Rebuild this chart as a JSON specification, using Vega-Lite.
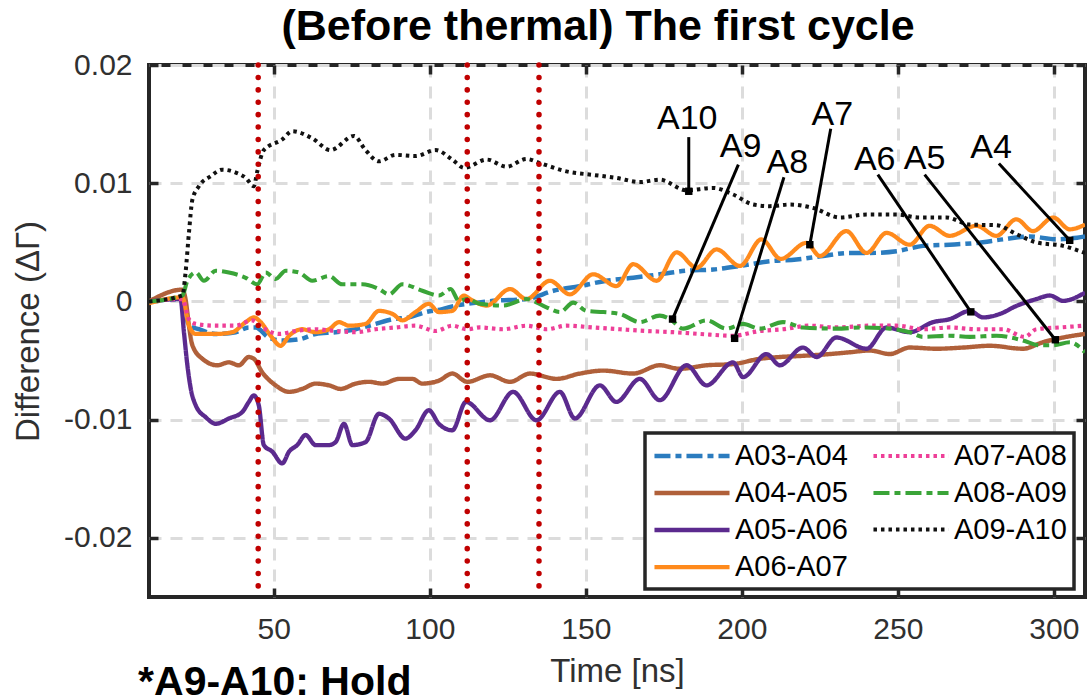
{
  "$schema": "https://vega.github.io/schema/vega-lite/v6.json",
  "autosize": "none",
  "padding": {"left": 149, "top": 65, "right": 2, "bottom": 102},
  "width": 936,
  "height": 532,
  "background": "white",
  "title": {"text": "(Before thermal) The first cycle", "font": "Liberation Sans", "fontSize": 43, "fontWeight": "bold", "color": "black", "anchor": "middle", "dx": -19, "offset": 1},
  "config": {
    "view": {"stroke": "#262626", "strokeWidth": 4},
    "axis": {"labelFont": "Liberation Sans", "titleFont": "Liberation Sans", "labelColor": "#303030", "titleColor": "#303030", "titleFontWeight": "normal", "domain": false, "tickColor": "#262626", "tickWidth": 3.5, "tickSize": -9, "gridColor": "#dcdcdc", "gridDash": [12, 9], "gridWidth": 3, "labelFontSize": 30, "titleFontSize": 33},
    "legend": {"orient": "none", "legendX": 496, "legendY": 368, "columns": 2, "strokeColor": "#262626", "strokeWidth": 3.5, "fillColor": "white", "padding": 7, "symbolType": "M-2.78,0H2.78", "symbolSize": 729, "symbolOffset": 24, "labelOffset": 27, "labelFont": "Liberation Sans", "labelFontSize": 29, "labelColor": "black", "rowPadding": 6, "columnPadding": 17, "title": null, "labelLimit": 300}
  },
  "datasets": {
    "series": [
      {"s":"A03-A04","t":10,"v":0},{"s":"A03-A04","t":20.7,"v":0.0002},{"s":"A03-A04","t":22.8,"v":-0.00205},{"s":"A03-A04","t":26,"v":-0.00235},{"s":"A03-A04","t":31.4,"v":-0.00275},{"s":"A03-A04","t":37.8,"v":-0.0026},{"s":"A03-A04","t":42,"v":-0.0022},{"s":"A03-A04","t":44.2,"v":-0.0022},{"s":"A03-A04","t":48.4,"v":-0.00305},{"s":"A03-A04","t":52.7,"v":-0.0033},{"s":"A03-A04","t":58.1,"v":-0.0032},{"s":"A03-A04","t":63.4,"v":-0.00275},{"s":"A03-A04","t":69.8,"v":-0.0026},{"s":"A03-A04","t":76.2,"v":-0.00235},{"s":"A03-A04","t":82.6,"v":-0.0019},{"s":"A03-A04","t":88,"v":-0.0015},{"s":"A03-A04","t":93.3,"v":-0.00135},{"s":"A03-A04","t":98.6,"v":-0.0009},{"s":"A03-A04","t":104,"v":-0.00065},{"s":"A03-A04","t":108.3,"v":-0.00035},{"s":"A03-A04","t":112,"v":-0.0002},{"s":"A03-A04","t":120.3,"v":0.00005},{"s":"A03-A04","t":131,"v":0.0002},{"s":"A03-A04","t":139.6,"v":0.0009},{"s":"A03-A04","t":148.1,"v":0.0013},{"s":"A03-A04","t":156.6,"v":0.00175},{"s":"A03-A04","t":165.2,"v":0.002},{"s":"A03-A04","t":173.7,"v":0.0023},{"s":"A03-A04","t":182.3,"v":0.0026},{"s":"A03-A04","t":190.8,"v":0.0027},{"s":"A03-A04","t":199.4,"v":0.003},{"s":"A03-A04","t":209,"v":0.0034},{"s":"A03-A04","t":217.5,"v":0.00355},{"s":"A03-A04","t":226.1,"v":0.00385},{"s":"A03-A04","t":234.6,"v":0.0041},{"s":"A03-A04","t":241,"v":0.0041},{"s":"A03-A04","t":249.6,"v":0.00425},{"s":"A03-A04","t":258.1,"v":0.0047},{"s":"A03-A04","t":266.6,"v":0.0048},{"s":"A03-A04","t":275.2,"v":0.00495},{"s":"A03-A04","t":283.7,"v":0.00525},{"s":"A03-A04","t":292.3,"v":0.0055},{"s":"A03-A04","t":300.8,"v":0.00525},{"s":"A03-A04","t":310,"v":0.0055},
      {"s":"A04-A05","t":10,"v":0},{"s":"A04-A05","t":20.7,"v":0.001},{"s":"A04-A05","t":21.7,"v":0.0002},{"s":"A04-A05","t":22.8,"v":-0.00205},{"s":"A04-A05","t":23.9,"v":-0.0037},{"s":"A04-A05","t":27.1,"v":-0.00485},{"s":"A04-A05","t":31.9,"v":-0.0054},{"s":"A04-A05","t":35.6,"v":-0.00515},{"s":"A04-A05","t":38.8,"v":-0.0054},{"s":"A04-A05","t":42,"v":-0.0047},{"s":"A04-A05","t":43.6,"v":-0.00485},{"s":"A04-A05","t":46.3,"v":-0.006},{"s":"A04-A05","t":50.6,"v":-0.0071},{"s":"A04-A05","t":54.9,"v":-0.00765},{"s":"A04-A05","t":59.1,"v":-0.0074},{"s":"A04-A05","t":63.4,"v":-0.00695},{"s":"A04-A05","t":67.7,"v":-0.0071},{"s":"A04-A05","t":71.4,"v":-0.0074},{"s":"A04-A05","t":76.2,"v":-0.00695},{"s":"A04-A05","t":80.5,"v":-0.0068},{"s":"A04-A05","t":84.8,"v":-0.00695},{"s":"A04-A05","t":90.1,"v":-0.00655},{"s":"A04-A05","t":94.4,"v":-0.00655},{"s":"A04-A05","t":97.6,"v":-0.00695},{"s":"A04-A05","t":102.9,"v":-0.0067},{"s":"A04-A05","t":107.2,"v":-0.0061},{"s":"A04-A05","t":112,"v":-0.0068},{"s":"A04-A05","t":119.3,"v":-0.00625},{"s":"A04-A05","t":125.7,"v":-0.0068},{"s":"A04-A05","t":132.1,"v":-0.0061},{"s":"A04-A05","t":140.6,"v":-0.00655},{"s":"A04-A05","t":148.1,"v":-0.0061},{"s":"A04-A05","t":155.6,"v":-0.00585},{"s":"A04-A05","t":165.2,"v":-0.0061},{"s":"A04-A05","t":173.7,"v":-0.0054},{"s":"A04-A05","t":180.1,"v":-0.0057},{"s":"A04-A05","t":188.7,"v":-0.0054},{"s":"A04-A05","t":197.2,"v":-0.0053},{"s":"A04-A05","t":205.8,"v":-0.00485},{"s":"A04-A05","t":212.2,"v":-0.0047},{"s":"A04-A05","t":219.6,"v":-0.0046},{"s":"A04-A05","t":228.2,"v":-0.00445},{"s":"A04-A05","t":234.6,"v":-0.0043},{"s":"A04-A05","t":241,"v":-0.00415},{"s":"A04-A05","t":247.4,"v":-0.00445},{"s":"A04-A05","t":253.8,"v":-0.0039},{"s":"A04-A05","t":262.4,"v":-0.004},{"s":"A04-A05","t":270.9,"v":-0.0039},{"s":"A04-A05","t":279.5,"v":-0.00375},{"s":"A04-A05","t":290.1,"v":-0.004},{"s":"A04-A05","t":296.5,"v":-0.00345},{"s":"A04-A05","t":303,"v":-0.00305},{"s":"A04-A05","t":310,"v":-0.00275},
      {"s":"A05-A06","t":10,"v":0},{"s":"A05-A06","t":20.1,"v":0.0002},{"s":"A05-A06","t":21.2,"v":-0.0026},{"s":"A05-A06","t":22.3,"v":-0.0054},{"s":"A05-A06","t":23.4,"v":-0.0074},{"s":"A05-A06","t":25,"v":-0.0088},{"s":"A05-A06","t":28.2,"v":-0.0098},{"s":"A05-A06","t":31.4,"v":-0.01035},{"s":"A05-A06","t":35.6,"v":-0.0099},{"s":"A05-A06","t":39.9,"v":-0.00935},{"s":"A05-A06","t":42,"v":-0.0085},{"s":"A05-A06","t":43.6,"v":-0.00795},{"s":"A05-A06","t":45.2,"v":-0.0088},{"s":"A05-A06","t":46.8,"v":-0.01215},{"s":"A05-A06","t":49.5,"v":-0.0127},{"s":"A05-A06","t":52.7,"v":-0.0137},{"s":"A05-A06","t":54.9,"v":-0.0127},{"s":"A05-A06","t":57.5,"v":-0.01215},{"s":"A05-A06","t":60.2,"v":-0.0113},{"s":"A05-A06","t":63.4,"v":-0.01215},{"s":"A05-A06","t":67.7,"v":-0.01215},{"s":"A05-A06","t":69.8,"v":-0.0119},{"s":"A05-A06","t":72.5,"v":-0.01035},{"s":"A05-A06","t":75.2,"v":-0.01215},{"s":"A05-A06","t":79.4,"v":-0.0119},{"s":"A05-A06","t":83.7,"v":-0.0095},{"s":"A05-A06","t":86.9,"v":-0.0099},{"s":"A05-A06","t":92.2,"v":-0.0116},{"s":"A05-A06","t":95.4,"v":-0.0109},{"s":"A05-A06","t":99.7,"v":-0.0092},{"s":"A05-A06","t":102.9,"v":-0.01035},{"s":"A05-A06","t":107.2,"v":-0.0109},{"s":"A05-A06","t":111.6,"v":-0.0085},{"s":"A05-A06","t":119.3,"v":-0.01005},{"s":"A05-A06","t":126.7,"v":-0.00765},{"s":"A05-A06","t":134.2,"v":-0.01005},{"s":"A05-A06","t":141.7,"v":-0.00765},{"s":"A05-A06","t":146.5,"v":-0.0099},{"s":"A05-A06","t":154.5,"v":-0.0071},{"s":"A05-A06","t":159.8,"v":-0.0085},{"s":"A05-A06","t":167.3,"v":-0.00655},{"s":"A05-A06","t":173.7,"v":-0.00835},{"s":"A05-A06","t":182.3,"v":-0.0054},{"s":"A05-A06","t":188.7,"v":-0.0071},{"s":"A05-A06","t":197.2,"v":-0.00515},{"s":"A05-A06","t":200.4,"v":-0.0064},{"s":"A05-A06","t":207.9,"v":-0.00445},{"s":"A05-A06","t":212.2,"v":-0.0054},{"s":"A05-A06","t":219.6,"v":-0.0039},{"s":"A05-A06","t":224,"v":-0.0047},{"s":"A05-A06","t":230.3,"v":-0.00305},{"s":"A05-A06","t":240,"v":-0.004},{"s":"A05-A06","t":246.4,"v":-0.0022},{"s":"A05-A06","t":253.8,"v":-0.0026},{"s":"A05-A06","t":261.3,"v":-0.00175},{"s":"A05-A06","t":266.6,"v":-0.0015},{"s":"A05-A06","t":273.1,"v":-0.0008},{"s":"A05-A06","t":277.3,"v":-0.00135},{"s":"A05-A06","t":283.7,"v":-0.00095},{"s":"A05-A06","t":287,"v":-0.0005},{"s":"A05-A06","t":294.4,"v":0.0002},{"s":"A05-A06","t":298.7,"v":0.0005},{"s":"A05-A06","t":303,"v":0.00005},{"s":"A05-A06","t":310,"v":0.00075},
      {"s":"A06-A07","t":10,"v":-0.00015},{"s":"A06-A07","t":20.7,"v":0.00035},{"s":"A06-A07","t":22.8,"v":-0.00205},{"s":"A06-A07","t":25,"v":-0.00275},{"s":"A06-A07","t":31.4,"v":-0.00275},{"s":"A06-A07","t":36.7,"v":-0.0026},{"s":"A06-A07","t":41,"v":-0.00175},{"s":"A06-A07","t":43.6,"v":-0.00135},{"s":"A06-A07","t":45.8,"v":-0.00175},{"s":"A06-A07","t":49,"v":-0.0029},{"s":"A06-A07","t":52.2,"v":-0.00375},{"s":"A06-A07","t":54.9,"v":-0.0029},{"s":"A06-A07","t":59.1,"v":-0.00235},{"s":"A06-A07","t":63.4,"v":-0.0026},{"s":"A06-A07","t":67.7,"v":-0.00235},{"s":"A06-A07","t":70.9,"v":-0.00175},{"s":"A06-A07","t":74.1,"v":-0.00205},{"s":"A06-A07","t":79.4,"v":-0.0019},{"s":"A06-A07","t":83.7,"v":-0.0008},{"s":"A06-A07","t":88,"v":-0.00105},{"s":"A06-A07","t":91.2,"v":-0.0016},{"s":"A06-A07","t":95.4,"v":-0.0009},{"s":"A06-A07","t":99.7,"v":-0.0002},{"s":"A06-A07","t":102.9,"v":-0.0009},{"s":"A06-A07","t":107.2,"v":-0.0008},{"s":"A06-A07","t":110.9,"v":0.0005},{"s":"A06-A07","t":112.9,"v":0.0002},{"s":"A06-A07","t":118.2,"v":-0.00035},{"s":"A06-A07","t":125.7,"v":0.00105},{"s":"A06-A07","t":131,"v":0.0002},{"s":"A06-A07","t":138.5,"v":0.00175},{"s":"A06-A07","t":144.9,"v":0.0006},{"s":"A06-A07","t":152.4,"v":0.0023},{"s":"A06-A07","t":159.8,"v":0.0013},{"s":"A06-A07","t":165.2,"v":0.00315},{"s":"A06-A07","t":172.7,"v":0.00175},{"s":"A06-A07","t":179.1,"v":0.00415},{"s":"A06-A07","t":185.5,"v":0.00285},{"s":"A06-A07","t":191.9,"v":0.0044},{"s":"A06-A07","t":199.4,"v":0.003},{"s":"A06-A07","t":206.3,"v":0.00525},{"s":"A06-A07","t":212.5,"v":0.0036},{"s":"A06-A07","t":220.7,"v":0.00495},{"s":"A06-A07","t":225,"v":0.00385},{"s":"A06-A07","t":233.5,"v":0.00595},{"s":"A06-A07","t":240,"v":0.0041},{"s":"A06-A07","t":246.4,"v":0.0058},{"s":"A06-A07","t":253.8,"v":0.0048},{"s":"A06-A07","t":260.2,"v":0.0064},{"s":"A06-A07","t":266.6,"v":0.00555},{"s":"A06-A07","t":275.2,"v":0.0064},{"s":"A06-A07","t":281.6,"v":0.00555},{"s":"A06-A07","t":288,"v":0.00695},{"s":"A06-A07","t":293.3,"v":0.00595},{"s":"A06-A07","t":299.8,"v":0.0071},{"s":"A06-A07","t":305.1,"v":0.0061},{"s":"A06-A07","t":310,"v":0.0065},
      {"s":"A07-A08","t":10,"v":0},{"s":"A07-A08","t":20.7,"v":0.0002},{"s":"A07-A08","t":22.8,"v":-0.0015},{"s":"A07-A08","t":25,"v":-0.0019},{"s":"A07-A08","t":31.4,"v":-0.00205},{"s":"A07-A08","t":37.8,"v":-0.00205},{"s":"A07-A08","t":43.1,"v":-0.0016},{"s":"A07-A08","t":46.3,"v":-0.0022},{"s":"A07-A08","t":51.7,"v":-0.00275},{"s":"A07-A08","t":57,"v":-0.0025},{"s":"A07-A08","t":63.4,"v":-0.00235},{"s":"A07-A08","t":69.8,"v":-0.0025},{"s":"A07-A08","t":76.2,"v":-0.0026},{"s":"A07-A08","t":82.6,"v":-0.00235},{"s":"A07-A08","t":89,"v":-0.0022},{"s":"A07-A08","t":95.4,"v":-0.00205},{"s":"A07-A08","t":101.9,"v":-0.0025},{"s":"A07-A08","t":107.2,"v":-0.00205},{"s":"A07-A08","t":112,"v":-0.00235},{"s":"A07-A08","t":116,"v":-0.0022},{"s":"A07-A08","t":123.5,"v":-0.00235},{"s":"A07-A08","t":131,"v":-0.00205},{"s":"A07-A08","t":137.4,"v":-0.00235},{"s":"A07-A08","t":143.8,"v":-0.00205},{"s":"A07-A08","t":152.4,"v":-0.0022},{"s":"A07-A08","t":160.9,"v":-0.00235},{"s":"A07-A08","t":169.5,"v":-0.0025},{"s":"A07-A08","t":178,"v":-0.0026},{"s":"A07-A08","t":186.5,"v":-0.00275},{"s":"A07-A08","t":197.2,"v":-0.0029},{"s":"A07-A08","t":205.8,"v":-0.0025},{"s":"A07-A08","t":213.2,"v":-0.00235},{"s":"A07-A08","t":221.8,"v":-0.00205},{"s":"A07-A08","t":230.3,"v":-0.0022},{"s":"A07-A08","t":241,"v":-0.00205},{"s":"A07-A08","t":249.6,"v":-0.00205},{"s":"A07-A08","t":258.1,"v":-0.00235},{"s":"A07-A08","t":266.6,"v":-0.0022},{"s":"A07-A08","t":275.2,"v":-0.00235},{"s":"A07-A08","t":283.7,"v":-0.00235},{"s":"A07-A08","t":290.7,"v":-0.003},{"s":"A07-A08","t":294.4,"v":-0.00235},{"s":"A07-A08","t":301.9,"v":-0.0022},{"s":"A07-A08","t":310,"v":-0.00205},
      {"s":"A08-A09","t":10,"v":0},{"s":"A08-A09","t":20.7,"v":0.0005},{"s":"A08-A09","t":22.3,"v":0.00175},{"s":"A08-A09","t":25,"v":0.00245},{"s":"A08-A09","t":27.6,"v":0.00175},{"s":"A08-A09","t":31.4,"v":0.0026},{"s":"A08-A09","t":35.6,"v":0.00245},{"s":"A08-A09","t":41,"v":0.002},{"s":"A08-A09","t":44.7,"v":0.00145},{"s":"A08-A09","t":47.4,"v":0.00245},{"s":"A08-A09","t":50.6,"v":0.0019},{"s":"A08-A09","t":53.8,"v":0.0026},{"s":"A08-A09","t":58.1,"v":0.00245},{"s":"A08-A09","t":62.3,"v":0.00175},{"s":"A08-A09","t":67.7,"v":0.00215},{"s":"A08-A09","t":71.9,"v":0.00145},{"s":"A08-A09","t":78.4,"v":0.00145},{"s":"A08-A09","t":83.7,"v":0.00105},{"s":"A08-A09","t":86.9,"v":0.0006},{"s":"A08-A09","t":91.2,"v":0.00145},{"s":"A08-A09","t":97.6,"v":0.0009},{"s":"A08-A09","t":102.9,"v":0.0005},{"s":"A08-A09","t":106.7,"v":0.00105},{"s":"A08-A09","t":109.3,"v":0.00005},{"s":"A08-A09","t":112,"v":0.0002},{"s":"A08-A09","t":116,"v":-0.0002},{"s":"A08-A09","t":123.5,"v":-0.00035},{"s":"A08-A09","t":131,"v":0.0002},{"s":"A08-A09","t":137.4,"v":-0.0005},{"s":"A08-A09","t":141.7,"v":-0.0009},{"s":"A08-A09","t":146,"v":-0.0001},{"s":"A08-A09","t":150.2,"v":-0.0008},{"s":"A08-A09","t":155.6,"v":-0.0009},{"s":"A08-A09","t":160.9,"v":-0.00105},{"s":"A08-A09","t":167.3,"v":-0.00175},{"s":"A08-A09","t":173.7,"v":-0.0012},{"s":"A08-A09","t":177,"v":-0.0015},{"s":"A08-A09","t":181.2,"v":-0.0023},{"s":"A08-A09","t":188.7,"v":-0.0016},{"s":"A08-A09","t":195.1,"v":-0.0023},{"s":"A08-A09","t":200.4,"v":-0.0019},{"s":"A08-A09","t":205.8,"v":-0.0023},{"s":"A08-A09","t":213.2,"v":-0.00175},{"s":"A08-A09","t":219.6,"v":-0.0022},{"s":"A08-A09","t":230.3,"v":-0.0023},{"s":"A08-A09","t":238.9,"v":-0.0022},{"s":"A08-A09","t":247.4,"v":-0.0023},{"s":"A08-A09","t":253.8,"v":-0.0026},{"s":"A08-A09","t":258.1,"v":-0.003},{"s":"A08-A09","t":266.6,"v":-0.0029},{"s":"A08-A09","t":273.1,"v":-0.003},{"s":"A08-A09","t":281.6,"v":-0.0029},{"s":"A08-A09","t":290.1,"v":-0.0033},{"s":"A08-A09","t":295.5,"v":-0.0037},{"s":"A08-A09","t":299.8,"v":-0.0037},{"s":"A08-A09","t":305.1,"v":-0.00345},{"s":"A08-A09","t":310,"v":-0.0043},
      {"s":"A09-A10","t":10,"v":0},{"s":"A09-A10","t":20.7,"v":0.0005},{"s":"A09-A10","t":21.7,"v":0.0024},{"s":"A09-A10","t":22.8,"v":0.0058},{"s":"A09-A10","t":23.9,"v":0.0086},{"s":"A09-A10","t":26,"v":0.00975},{"s":"A09-A10","t":29.8,"v":0.0106},{"s":"A09-A10","t":33.5,"v":0.01115},{"s":"A09-A10","t":37.8,"v":0.0109},{"s":"A09-A10","t":41,"v":0.01045},{"s":"A09-A10","t":43.6,"v":0.00975},{"s":"A09-A10","t":44.7,"v":0.011},{"s":"A09-A10","t":46.8,"v":0.0128},{"s":"A09-A10","t":52.7,"v":0.0137},{"s":"A09-A10","t":55.9,"v":0.0144},{"s":"A09-A10","t":62.3,"v":0.0138},{"s":"A09-A10","t":68.2,"v":0.0128},{"s":"A09-A10","t":75.7,"v":0.014},{"s":"A09-A10","t":79.4,"v":0.0128},{"s":"A09-A10","t":83.7,"v":0.01185},{"s":"A09-A10","t":89,"v":0.0124},{"s":"A09-A10","t":95.4,"v":0.0123},{"s":"A09-A10","t":101.9,"v":0.0128},{"s":"A09-A10","t":107.2,"v":0.012},{"s":"A09-A10","t":111,"v":0.0113},{"s":"A09-A10","t":118.2,"v":0.012},{"s":"A09-A10","t":124.6,"v":0.0114},{"s":"A09-A10","t":131,"v":0.01205},{"s":"A09-A10","t":135.3,"v":0.0117},{"s":"A09-A10","t":143.8,"v":0.011},{"s":"A09-A10","t":152.4,"v":0.0107},{"s":"A09-A10","t":159.8,"v":0.01045},{"s":"A09-A10","t":167.3,"v":0.0101},{"s":"A09-A10","t":173.7,"v":0.0103},{"s":"A09-A10","t":182.3,"v":0.0094},{"s":"A09-A10","t":190.8,"v":0.0096},{"s":"A09-A10","t":197.2,"v":0.00905},{"s":"A09-A10","t":203.6,"v":0.0082},{"s":"A09-A10","t":209,"v":0.00806},{"s":"A09-A10","t":215.4,"v":0.0082},{"s":"A09-A10","t":222.9,"v":0.0079},{"s":"A09-A10","t":231.4,"v":0.0071},{"s":"A09-A10","t":240,"v":0.00735},{"s":"A09-A10","t":249.6,"v":0.00735},{"s":"A09-A10","t":257,"v":0.0071},{"s":"A09-A10","t":265.6,"v":0.0071},{"s":"A09-A10","t":273.1,"v":0.0065},{"s":"A09-A10","t":281.6,"v":0.00645},{"s":"A09-A10","t":288,"v":0.0057},{"s":"A09-A10","t":294.4,"v":0.005},{"s":"A09-A10","t":303,"v":0.0047},{"s":"A09-A10","t":310,"v":0.0041}
    ],
    "vlines": [{"t": 45}, {"t": 112}, {"t": 135}],
    "ann": [
      {"label": "A10", "tx": 182.5, "ty": 0.0154, "x1": 183, "y1": 0.0139, "x2": 183, "y2": 0.00932},
      {"label": "A9", "tx": 199.6, "ty": 0.0131, "x1": 198.9, "y1": 0.01157, "x2": 177.8, "y2": -0.00149},
      {"label": "A8", "tx": 214.6, "ty": 0.0117, "x1": 213.5, "y1": 0.0105, "x2": 197.7, "y2": -0.00312},
      {"label": "A7", "tx": 229, "ty": 0.0158, "x1": 228.5, "y1": 0.0146, "x2": 221.8, "y2": 0.0048},
      {"label": "A6", "tx": 242.6, "ty": 0.012, "x1": 243.6, "y1": 0.01073, "x2": 273.4, "y2": -0.00088},
      {"label": "A5", "tx": 258.6, "ty": 0.01205, "x1": 258.6, "y1": 0.01073, "x2": 300.5, "y2": -0.00324},
      {"label": "A4", "tx": 279.9, "ty": 0.013, "x1": 282.4, "y1": 0.01166, "x2": 305.1, "y2": 0.00517}
    ],
    "note": [{"label": "*A9-A10: Hold", "t": 6.5, "v": -0.0333}]
  },
  "layer": [
    {
      "data": {"name": "series"},
      "mark": {"type": "line", "clip": true, "strokeCap": "butt", "strokeJoin": "round", "interpolate": "monotone"},
      "encoding": {
        "x": {"field": "t", "type": "quantitative", "scale": {"domain": [10, 310], "nice": false, "zero": false},
          "axis": {"orient": "bottom", "values": [50, 100, 150, 200, 250, 300], "title": "Time [ns]", "labelPadding": 26, "titlePadding": 11, "grid": true}},
        "y": {"field": "v", "type": "quantitative", "scale": {"domain": [-0.025, 0.02], "nice": false, "zero": false},
          "axis": {"orient": "left", "values": [-0.02, -0.01, 0, 0.01, 0.02], "title": "Difference (ΔΓ)", "labelPadding": 26, "titlePadding": 18, "grid": true,
            "labelExpr": "datum.value == 0 ? '0' : (datum.value < 0 ? '-' : '') + format(abs(datum.value), '.2f')"}},
        "color": {"field": "s", "type": "nominal",
          "scale": {"domain": ["A03-A04", "A04-A05", "A05-A06", "A06-A07", "A07-A08", "A08-A09", "A09-A10"],
                    "range": ["#2b7cbf", "#b0603a", "#5b2a8e", "#ff8a1c", "#ee3f98", "#3aa438", "#111111"]}},
        "strokeDash": {"field": "s", "type": "nominal",
          "scale": {"domain": ["A03-A04", "A04-A05", "A05-A06", "A06-A07", "A07-A08", "A08-A09", "A09-A10"],
                    "range": [[16, 5, 6, 5], [1, 0], [1, 0], [1, 0], [3.5, 4], [16, 5, 6, 5], [3.5, 4]]}},
        "strokeWidth": {"field": "s", "type": "nominal",
          "scale": {"domain": ["A03-A04", "A04-A05", "A05-A06", "A06-A07", "A07-A08", "A08-A09", "A09-A10"],
                    "range": [4.5, 4, 8, 5, 4, 5, 4]}}
      }
    },
    {
      "data": {"name": "series"},
      "mark": {"type": "point", "opacity": 0},
      "encoding": {
        "x": {"field": "t", "type": "quantitative", "axis": {"orient": "top", "values": [50, 100, 150, 200, 250, 300], "labels": false, "title": null, "grid": false}},
        "y": {"field": "v", "type": "quantitative", "axis": {"orient": "right", "values": [-0.02, -0.01, 0, 0.01, 0.02], "labels": false, "title": null, "grid": false}}
      }
    },
    {
      "data": {"name": "vlines"},
      "mark": {"type": "rule", "color": "#c00000", "strokeWidth": 5.5, "strokeCap": "round", "strokeDash": [0.1, 12.3]},
      "encoding": {"x": {"field": "t", "type": "quantitative", "axis": null}}
    },
    {
      "data": {"name": "ann"},
      "mark": {"type": "rule", "color": "black", "strokeWidth": 3},
      "encoding": {
        "x": {"field": "x1", "type": "quantitative", "axis": null}, "y": {"field": "y1", "type": "quantitative", "axis": null},
        "x2": {"field": "x2"}, "y2": {"field": "y2"}
      }
    },
    {
      "data": {"name": "ann"},
      "mark": {"type": "point", "shape": "square", "filled": true, "color": "black", "size": 55, "opacity": 1},
      "encoding": {"x": {"field": "x2", "type": "quantitative", "axis": null}, "y": {"field": "y2", "type": "quantitative", "axis": null}}
    },
    {
      "data": {"name": "ann"},
      "mark": {"type": "text", "font": "Liberation Sans", "fontSize": 34, "color": "black", "align": "center", "baseline": "middle"},
      "encoding": {"x": {"field": "tx", "type": "quantitative", "axis": null}, "y": {"field": "ty", "type": "quantitative", "axis": null}, "text": {"field": "label"}}
    },
    {
      "data": {"name": "note"},
      "mark": {"type": "text", "font": "Liberation Sans", "fontSize": 41, "fontWeight": "bold", "color": "black", "align": "left", "baseline": "alphabetic"},
      "encoding": {"x": {"field": "t", "type": "quantitative", "axis": null}, "y": {"field": "v", "type": "quantitative", "axis": null}, "text": {"field": "label"}}
    }
  ]
}
